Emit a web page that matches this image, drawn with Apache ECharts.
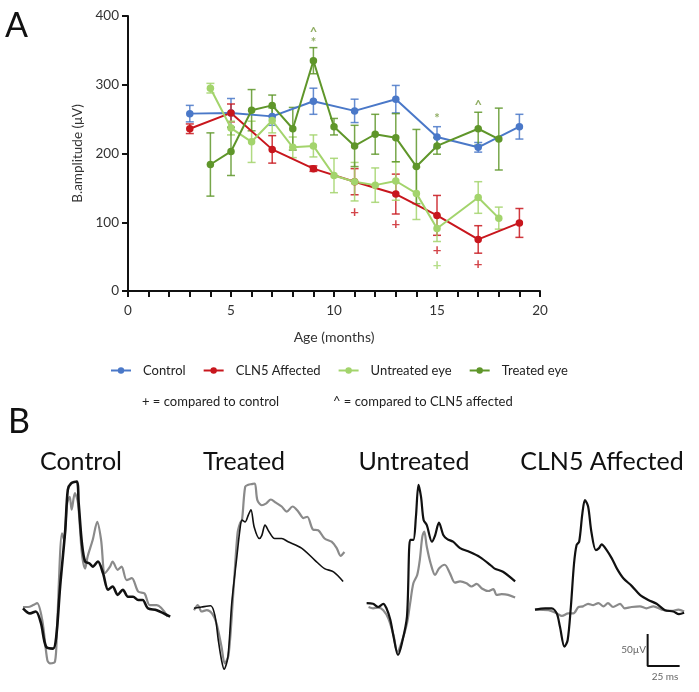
<!DOCTYPE html>
<html>
<head>
<meta charset="utf-8">
<script src="https://cdn.jsdelivr.net/npm/echarts@6/dist/echarts.min.js"></script>
<style>html,body{margin:0;padding:0;background:#fff}#c{width:699px;height:692px}</style>
</head>
<body>
<div id="c"></div>
<script>
// ---------- Panel A data (B-wave amplitude, µV) ----------
var controlMonths = [3, 5, 7, 9, 11, 13, 15, 17, 19];
var controlMean   = [258, 259, 254, 276, 262, 279, 224, 209, 239];
var controlErr    = [12, 21, 13, 19, 17, 20, 15, 7, 18];

var cln5Months = [3, 5, 7, 9, 11, 13, 15, 17, 19];
var cln5Mean   = [236, 259, 206, 178, 159, 141, 110, 75, 99];
var cln5Err    = [7, 13, 20, 4, 19, 29, 29, 20, 21];

var untreatedMonths = [4, 5, 6, 7, 8, 9, 10, 11, 12, 13, 14, 15, 17, 18];
var untreatedMean   = [295, 237, 217, 248, 209, 211, 168, 159, 154, 160, 142, 91, 136, 106];
var untreatedErr    = [7, 10, 30, 18, 15, 16, 25, 28, 25, 28, 38, 19, 23, 16];

var treatedMonths = [4, 5, 6, 7, 8, 9, 10, 11, 12, 13, 14, 15, 17, 18];
var treatedMean   = [184, 203, 263, 270, 236, 335, 239, 211, 228, 223, 181, 211, 236, 221];
var treatedErr    = [46, 35, 30, 15, 31, 19, 12, 30, 29, 35, 54, 12, 24, 45];

// significance marks
var sigTreatedX    = [9, 9, 15, 17];
var sigTreatedY    = [376, 361, 251, 269];
var sigTreatedText = ['^', '*', '*', '^'];
var plusCln5X = [11, 13, 15, 17];
var plusCln5Y = [114, 97, 59, 39];
var plusUntreatedX = [15];
var plusUntreatedY = [37];

// ---------- Panel B data: ERG traces [time ms, amplitude µV] ----------
var controlBlack = [[0,-2],[5.5,-10],[10,-7],[14,-25],[18,-62],[23.5,-65],[26,-46],[29,32],[33,120],[35,183],[37.5,193],[42,196],[43.5,162],[46,100],[48.5,71],[52,68],[54.5,63],[58.5,71],[62.5,53],[66.5,27],[70,32],[74,19],[78,27],[82,16],[86,16],[90,11],[93.5,11],[97.5,-2],[104.5,-5],[115,-15]];
var controlGray = [[0,0],[4,0],[8,3],[11,6],[15,-20],[19,-83],[21,-88],[25,-85],[26.5,-36],[30.5,115],[32,105],[34.5,162],[36.5,172],[38,152],[40.5,178],[43,162],[46,84],[48.5,60],[50.5,79],[54.5,105],[58,133],[61,105],[64,53],[68,63],[70,71],[74,58],[77,63],[81,42],[85,45],[90,24],[95,21],[99,3],[104.5,3],[113,-15]];

var treatedBlack = [[0,-2],[6,0],[13,2],[16.5,-15],[19,-52],[21.5,-83],[23.5,-97],[26.5,-78],[29.5,6],[33.5,79],[36,123],[37.5,136],[40,133],[42.5,144],[44.5,152],[47,125],[51,107],[53,112],[55.5,128],[58.5,118],[63,107],[68.5,107],[73.5,102],[84,92],[94.5,73],[102,60],[109,55],[116.5,40]];
var treatedGray = [[0,-5],[3,3],[6,-7],[10,-5],[14,-10],[17.5,-25],[21.5,-62],[24,-88],[27,-75],[30.5,16],[34,115],[36,131],[37.5,136],[40,188],[42.5,191],[45,192],[47.5,193],[49.5,167],[53,159],[56.5,162],[60,168],[64,163],[68.5,157],[72.5,149],[77,157],[81.5,149],[85.5,139],[88.5,141],[93,121],[97,120],[102,107],[107.5,102],[111.5,92],[114.5,80],[117.5,86]];

var untreatedBlack = [[0.5,6],[5.5,5],[9.5,0],[13.5,5],[16,-2],[19,-20],[21.5,-46],[25,-75],[28,-57],[32,-15],[34.5,105],[37,105],[39,141],[41,191],[43,172],[45,136],[47.5,128],[51.5,102],[54,112],[57,132],[60.5,112],[63.5,106],[68,102],[73.5,92],[81,86],[89,78],[97,66],[100.5,60],[107,55],[116.5,40]];
var untreatedGray = [[2,0],[5.5,-2],[9.5,-1],[13.5,-5],[17.5,-18],[21.5,-44],[24.5,-70],[28,-54],[32,-26],[34.5,6],[37,37],[40,50],[42,73],[44,110],[45.5,118],[47.5,94],[50.5,68],[54,50],[57,60],[61.5,66],[65.5,53],[69.5,38],[73.5,40],[78.5,37],[82.5,32],[86.5,36],[90.5,29],[95.5,25],[99.5,28],[102,19],[106,20],[111,19],[116.5,15]];

var cln5Black = [[0,-4],[8,-2],[13,-2],[17,-10],[19.5,-31],[23,-62],[25.5,-52],[28,0],[30.5,68],[32.5,97],[34.5,102],[37,146],[39,167],[41.5,157],[44,118],[47.5,89],[50,92],[52,98],[56,89],[60,76],[64,60],[69,45],[75.5,33],[82,19],[88.5,11],[95,5],[101.5,-5],[108,-7],[112.5,-11],[116.5,-9]];
var cln5Gray = [[0,-4],[10.5,-5],[17,-10],[21,-14],[26,-10],[30,-10],[34,0],[37.5,1],[41.5,5],[45.5,3],[49.5,6],[53.5,1],[57,6],[61,0],[66.5,5],[70,-2],[75.5,0],[82,1],[87,-2],[92.5,1],[99,-4],[107,-6],[112,-4],[116.5,-7]];

// scale bar: 50 µV vertical, 25 ms horizontal
var scaleBar = [[88,-42],[88,-92],[113,-92]];

var panelTitles = ['Control', 'Treated', 'Untreated', 'CLN5 Affected'];
var legendNames = ['Control', 'CLN5 Affected', 'Untreated eye', 'Treated eye'];

// ---------- build ----------
var FONT = 'Lato, "Open Sans", sans-serif';
var colors = {control:'#4a78c8', cln5:'#c8161d', untreated:'#a3d46c', treated:'#5f962a'};

function pairs(xs, ys){ return xs.map(function(x,i){ return [x, ys[i]]; }); }
function errData(xs, m, e){ return xs.map(function(x,i){ return [x, m[i]-e[i], m[i]+e[i]]; }); }
function errRender(color){
  return function(params, api){
    var x = api.value(0);
    var lo = api.coord([x, api.value(1)]);
    var hi = api.coord([x, api.value(2)]);
    var w = 4;
    var st = {stroke: color, lineWidth: 1.5, opacity: 0.85};
    return {type:'group', children:[
      {type:'line', shape:{x1:lo[0], y1:lo[1], x2:hi[0], y2:hi[1]}, style:st},
      {type:'line', shape:{x1:lo[0]-w, y1:lo[1], x2:lo[0]+w, y2:lo[1]}, style:st},
      {type:'line', shape:{x1:hi[0]-w, y1:hi[1], x2:hi[0]+w, y2:hi[1]}, style:st}
    ]};
  };
}
function lineSeries(name, xs, ys, color){
  return {name:name, type:'line', xAxisIndex:0, yAxisIndex:0, data:pairs(xs, ys),
    symbol:'circle', symbolSize:7.5, showSymbol:true,
    itemStyle:{color:color}, lineStyle:{color:color, width:2}, z:3};
}
function errSeries(xs, m, e, color){
  return {type:'custom', xAxisIndex:0, yAxisIndex:0, data:errData(xs, m, e), renderItem:errRender(color), z:2, silent:true};
}
function markSeries(xs, ys, texts, color, size){
  return {type:'scatter', xAxisIndex:0, yAxisIndex:0, symbolSize:0,
    data: xs.map(function(x,i){ return [x, ys[i], texts ? texts[i] : '+']; }),
    label:{show:true, position:'inside', formatter:function(p){ return p.value[2]; }, color:color, fontSize:size, fontWeight:'bold', fontFamily:FONT},
    silent:true, z:4};
}

var grids = [{left:128, top:16, width:412, height:275}];
var xAxes = [{type:'value', gridIndex:0, min:0, max:20, interval:5,
  axisLine:{lineStyle:{color:'#111', width:2}}, axisTick:{length:6, lineStyle:{color:'#111', width:2}},
  minorTick:{show:true, splitNumber:5, length:6, lineStyle:{color:'#111', width:2}},
  splitLine:{show:false}, axisLabel:{color:'#333', fontSize:13.5, fontFamily:FONT, margin:13},
  name:'Age (months)', nameLocation:'middle', nameGap:39, nameTextStyle:{color:'#333', fontSize:14, fontFamily:FONT}}];
var yAxes = [{type:'value', gridIndex:0, min:0, max:400, interval:100,
  axisLine:{show:true, lineStyle:{color:'#111', width:2}}, axisTick:{show:true, length:6, lineStyle:{color:'#111', width:2}},
  splitLine:{show:false}, axisLabel:{color:'#333', fontSize:13.5, fontFamily:FONT, margin:9},
  name:'B.amplitude (μV)', nameLocation:'middle', nameGap:43, nameTextStyle:{color:'#333', fontSize:13.5, fontFamily:FONT}}];

var series = [
  errSeries(controlMonths, controlMean, controlErr, colors.control),
  errSeries(cln5Months, cln5Mean, cln5Err, colors.cln5),
  errSeries(untreatedMonths, untreatedMean, untreatedErr, colors.untreated),
  errSeries(treatedMonths, treatedMean, treatedErr, colors.treated),
  lineSeries('Control', controlMonths, controlMean, colors.control),
  lineSeries('CLN5 Affected', cln5Months, cln5Mean, colors.cln5),
  lineSeries('Untreated eye', untreatedMonths, untreatedMean, colors.untreated),
  lineSeries('Treated eye', treatedMonths, treatedMean, colors.treated),
  markSeries(sigTreatedX, sigTreatedY, sigTreatedText, '#74983c', 13),
  markSeries(plusCln5X, plusCln5Y, null, colors.cln5, 15),
  markSeries(plusUntreatedX, plusUntreatedY, null, colors.untreated, 15)
];

// Panel B grids
var panelLefts = [23, 194, 366, 535];
var traces = [[controlBlack, controlGray],[treatedBlack, treatedGray],[untreatedBlack, untreatedGray],[cln5Black, cln5Gray]];
var blackWidths = [2.6, 1.6, 2.2, 2.2];
panelLefts.forEach(function(l, i){
  var gi = i + 1;
  grids.push({left:l, top:463, width:160, height:224});
  xAxes.push({type:'value', gridIndex:gi, min:0, max:125, show:false});
  yAxes.push({type:'value', gridIndex:gi, min:-125, max:225, show:false});
  series.push({type:'line', xAxisIndex:gi, yAxisIndex:gi, data:traces[i][1], showSymbol:false, symbol:'none', smooth:0.3,
    lineStyle:{color:'#8a8a8a', width:2.2}, silent:true, z:2});
  series.push({type:'line', xAxisIndex:gi, yAxisIndex:gi, data:traces[i][0], showSymbol:false, symbol:'none', smooth:0.3,
    lineStyle:{color:'#111', width:blackWidths[i]}, silent:true, z:3});
});
series.push({type:'line', xAxisIndex:4, yAxisIndex:4, data:scaleBar, showSymbol:false, symbol:'none',
  lineStyle:{color:'#111', width:2}, silent:true, z:3});

var titleCenters = [81, 244, 414, 602];
var graphics = [
  {type:'text', left:5, top:9, style:{text:'A', font:'34px ' + FONT, fill:'#111'}},
  {type:'text', left:8, top:405, style:{text:'B', font:'34px ' + FONT, fill:'#111'}},
  {type:'text', left:142, top:395, style:{text:'+ = compared to control', font:'13px ' + FONT, fill:'#222'}},
  {type:'text', left:333, top:395, style:{text:'^ = compared to CLN5 affected', font:'13px ' + FONT, fill:'#222'}},
  {type:'text', x:646, y:650, style:{text:'50µV', font:'10px ' + FONT, fill:'#666', textAlign:'right', textVerticalAlign:'middle'}},
  {type:'text', x:665, y:677, style:{text:'25 ms', font:'10px ' + FONT, fill:'#666', textAlign:'center', textVerticalAlign:'middle'}}
];
panelTitles.forEach(function(t, i){
  graphics.push({type:'text', x:titleCenters[i], y:462, style:{text:t, font:'25px ' + FONT, fill:'#111', textAlign:'center', textVerticalAlign:'middle'}});
});

var chart = echarts.init(document.getElementById('c'), null, {renderer:'canvas'});
chart.setOption({
  animation:false,
  backgroundColor:'#fff',
  textStyle:{fontFamily:FONT},
  legend:{left:105, top:359, itemWidth:20, itemHeight:8, itemGap:17,
    data:legendNames,
    textStyle:{fontSize:13, color:'#222', fontFamily:FONT, padding:[0,0,0,7]}},
  grid:grids, xAxis:xAxes, yAxis:yAxes, series:series, graphic:graphics
});
</script>
</body>
</html>
